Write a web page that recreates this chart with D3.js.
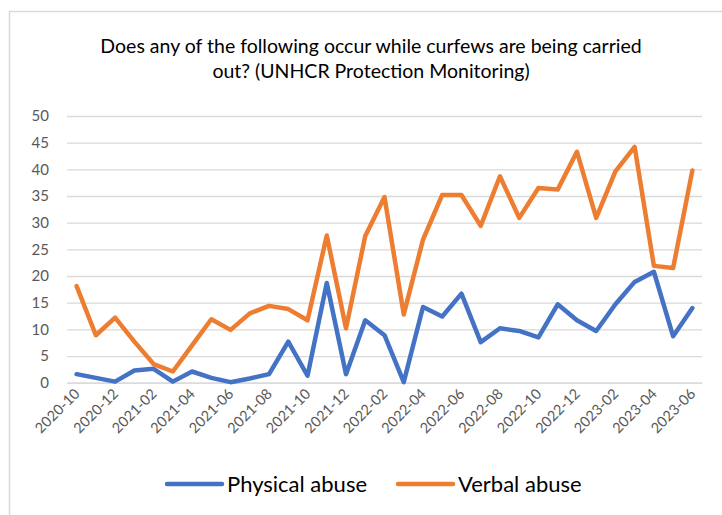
<!DOCTYPE html>
<html>
<head>
<meta charset="utf-8">
<script src="https://cdn.jsdelivr.net/npm/d3@7"></script>
<style>
  html, body { margin: 0; padding: 0; background: #ffffff; }
  svg { display: block; font-family: Lato, "Open Sans", sans-serif; }
</style>
</head>
<body>
<svg id="chart" width="722" height="515"></svg>
<script>
// Monthly survey periods
const months = [
  "2020-10","2020-11","2020-12","2021-01","2021-02","2021-03","2021-04","2021-05",
  "2021-06","2021-07","2021-08","2021-09","2021-10","2021-11","2021-12","2022-01",
  "2022-02","2022-03","2022-04","2022-05","2022-06","2022-07","2022-08","2022-09",
  "2022-10","2022-11","2022-12","2023-01","2023-02","2023-03","2023-04","2023-05",
  "2023-06"
];

// Share of respondents reporting each kind of abuse (%)
const physicalAbuse = [
  1.6, 0.9, 0.2, 2.3, 2.6, 0.2, 2.1, 0.9,
  0.1, 0.8, 1.6, 7.7, 1.3, 18.7, 1.6, 11.7,
  8.9, 0.1, 14.2, 12.4, 16.7, 7.6, 10.2, 9.7,
  8.5, 14.7, 11.7, 9.7, 14.7, 18.9, 20.8, 8.7,
  14.0
];
const verbalAbuse = [
  18.1, 8.9, 12.2, 7.7, 3.5, 2.1, 7.0, 11.9,
  9.9, 13.0, 14.4, 13.8, 11.7, 27.6, 10.2, 27.5,
  34.8, 12.8, 26.8, 35.2, 35.2, 29.4, 38.7, 30.9,
  36.5, 36.2, 43.3, 30.9, 39.6, 44.2, 21.9, 21.5,
  39.8
];

// Every second month is labelled on the category axis
const tickLabels = months.filter((d, i) => i % 2 === 0);
const yTicks = [0, 5, 10, 15, 20, 25, 30, 35, 40, 45, 50];

const series = [
  { name: "Physical abuse", values: physicalAbuse, color: "#4472C4" },
  { name: "Verbal abuse",   values: verbalAbuse,   color: "#ED7D31" }
];

const svg = d3.select("#chart");

// chart area frame
svg.append("rect")
  .attr("x", 9.5).attr("y", 11.5)
  .attr("width", 740).attr("height", 540)
  .attr("fill", "#ffffff")
  .attr("stroke", "#d9d9d9")
  .attr("stroke-width", 1.5);

// title
const title = svg.append("text")
  .attr("text-anchor", "middle")
  .attr("fill", "#000000")
  .attr("font-size", 19.5);
title.append("tspan").attr("x", 371).attr("y", 53)
  .text("Does any of the following occur while curfews are being carried");
title.append("tspan").attr("x", 371).attr("y", 78)
  .text("out? (UNHCR Protection Monitoring)");

const plot = { left: 67, right: 702, top: 116, bottom: 382.7 };

const x = d3.scaleBand()
  .domain(months)
  .range([plot.left, plot.right])
  .paddingInner(0).paddingOuter(0);
const xc = d => x(d) + x.bandwidth() / 2;

const y = d3.scaleLinear()
  .domain([0, 50])
  .range([plot.bottom, plot.top]);

// horizontal gridlines + value labels
const yAxis = d3.axisLeft(y)
  .tickValues(yTicks)
  .tickSize(-(plot.right - plot.left))
  .tickPadding(18)
  .tickFormat(d3.format("d"));
const yG = svg.append("g")
  .attr("transform", `translate(${plot.left},0)`)
  .call(yAxis);
yG.select(".domain").remove();
yG.selectAll(".tick line").attr("stroke", "#d9d9d9").attr("stroke-width", 1.3);
yG.selectAll(".tick text")
  .attr("fill", "#595959")
  .attr("font-size", 15)
  .attr("font-family", "Lato, sans-serif");

// category axis
const xAxis = d3.axisBottom(x)
  .tickValues(tickLabels)
  .tickSize(0)
  .tickSizeOuter(0);
const xG = svg.append("g")
  .attr("transform", `translate(0,${plot.bottom})`)
  .call(xAxis);
xG.select(".domain").attr("stroke", "#d9d9d9").attr("stroke-width", 1.3);
xG.selectAll(".tick text")
  .attr("fill", "#595959")
  .attr("font-size", 14.5)
  .attr("font-family", "Lato, sans-serif")
  .attr("text-anchor", "end")
  .attr("dy", 0)
  .attr("y", 0)
  .attr("transform", "translate(4,12) rotate(-45)");

// series lines
const line = d3.line()
  .x((v, i) => xc(months[i]))
  .y(v => y(v));

svg.append("g").selectAll("path")
  .data(series)
  .join("path")
  .attr("d", s => line(s.values))
  .attr("fill", "none")
  .attr("stroke", s => s.color)
  .attr("stroke-width", 4.5)
  .attr("stroke-linejoin", "round")
  .attr("stroke-linecap", "round");

// legend
const legendX = [167, 398];
const legend = svg.append("g").selectAll("g")
  .data(series)
  .join("g")
  .attr("transform", (s, i) => `translate(${legendX[i]},484)`);
legend.append("line")
  .attr("x1", 0).attr("x2", 55)
  .attr("y1", 0).attr("y2", 0)
  .attr("stroke", s => s.color)
  .attr("stroke-width", 4.5)
  .attr("stroke-linecap", "round");
legend.append("text")
  .attr("x", 60).attr("y", 8)
  .attr("font-size", 22)
  .attr("fill", "#000000")
  .text(s => s.name);
</script>
</body>
</html>
